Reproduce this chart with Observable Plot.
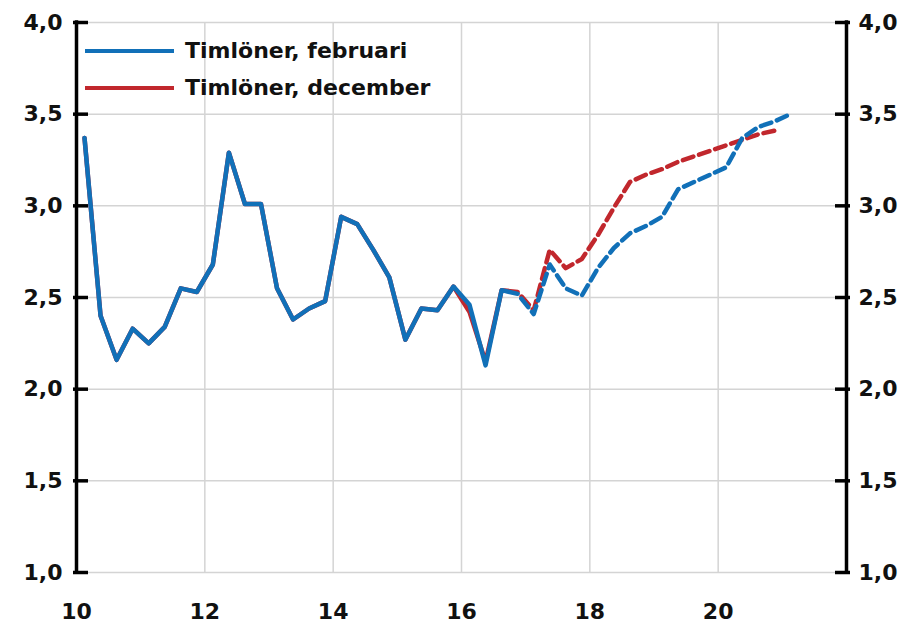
<!DOCTYPE html>
<html>
<head>
<meta charset="utf-8">
<script src="https://cdn.jsdelivr.net/npm/d3@7"></script>
<script src="https://cdn.jsdelivr.net/npm/@observablehq/plot@0.6"></script>
<style>
  html, body { margin: 0; padding: 0; background: #fff; }
  #wrap { position: relative; width: 915px; height: 624px; }
  #legend { position: absolute; left: 85px; top: 32px; font-family: "DejaVu Sans", sans-serif; font-weight: bold; font-size: 22px; color: #111; }
  .item { display: flex; align-items: center; height: 37px; }
  .swatch { width: 89px; height: 4px; margin-right: 11px; }
  svg text { font-weight: bold; }
</style>
</head>
<body>
<div id="wrap">
  <div id="chart"></div>
  <div id="legend"></div>
</div>
<script>
// Series names
const seriesNames = ["Timlöner, februari", "Timlöner, december"];
const seriesColors = ["#1170b8", "#c1272d"];

// Outcome period (quarters, year fraction)
const histX = [10.125, 10.375, 10.625, 10.875, 11.125, 11.375, 11.625, 11.875,
               12.125, 12.375, 12.625, 12.875, 13.125, 13.375, 13.625, 13.875,
               14.125, 14.375, 14.625, 14.875, 15.125, 15.375, 15.625, 15.875,
               16.125, 16.375, 16.625, 16.875];
const febHist = [3.37, 2.40, 2.16, 2.33, 2.25, 2.34, 2.55, 2.53,
                 2.68, 3.29, 3.01, 3.01, 2.55, 2.38, 2.44, 2.48,
                 2.94, 2.90, 2.76, 2.61, 2.27, 2.44, 2.43, 2.56,
                 2.46, 2.13, 2.54, 2.52];
const decHist = [3.37, 2.40, 2.16, 2.33, 2.25, 2.34, 2.55, 2.53,
                 2.68, 3.29, 3.01, 3.01, 2.55, 2.38, 2.44, 2.48,
                 2.94, 2.90, 2.76, 2.61, 2.27, 2.44, 2.43, 2.56,
                 2.42, 2.15, 2.54, 2.53];

// Forecast period
const febFcX = [16.875, 17.125, 17.375, 17.625, 17.875, 18.125, 18.375, 18.625, 18.875,
                19.125, 19.375, 19.625, 19.875, 20.125, 20.375, 20.625, 20.875, 21.125];
const febFc = [2.52, 2.41, 2.68, 2.55, 2.51, 2.66, 2.77, 2.85, 2.89,
               2.94, 3.09, 3.13, 3.17, 3.21, 3.37, 3.43, 3.46, 3.50];
const decFcX = [16.875, 17.125, 17.375, 17.625, 17.875, 18.125, 18.375, 18.625, 18.875,
                19.125, 19.375, 19.625, 19.875, 20.125, 20.375, 20.625, 20.875];
const decFc = [2.53, 2.43, 2.76, 2.66, 2.71, 2.84, 2.99, 3.13, 3.17,
               3.20, 3.24, 3.27, 3.30, 3.33, 3.36, 3.39, 3.41];

// Axis ticks
const xTicks = [10, 12, 14, 16, 18, 20];
const xGrid = [12, 14, 16, 18, 20];
const yTicks = [1.0, 1.5, 2.0, 2.5, 3.0, 3.5, 4.0];
const xEdges = [10, 22];

const toRows = (xs, ys) => xs.map((x, i) => ({x, y: ys[i]}));
const fmt = d => d.toFixed(1).replace(".", ",");

const chart = Plot.plot({
  width: 915,
  height: 624,
  marginTop: 22,
  marginBottom: 52,
  marginLeft: 76,
  marginRight: 69,
  style: {fontFamily: "DejaVu Sans, sans-serif", fontSize: "22px", color: "#111", background: "#fff"},
  x: {domain: xEdges, label: null},
  y: {domain: [1, 4], label: null},
  marks: [
    Plot.gridY(yTicks, {stroke: "#d4d4d4", strokeOpacity: 1, strokeWidth: 1.5}),
    Plot.gridX(xGrid, {stroke: "#d4d4d4", strokeOpacity: 1, strokeWidth: 1.5}),
    Plot.ruleX(xEdges, {stroke: "#000", strokeWidth: 3.5, y1: 0.99, y2: 4.01}),
    Plot.axisY(yTicks, {anchor: "left", tickSize: 15, dx: 12, tickFormat: () => "", stroke: "#000", strokeWidth: 3.5, label: null}),
    Plot.axisY(yTicks, {anchor: "right", tickSize: 15, dx: -12, tickFormat: () => "", stroke: "#000", strokeWidth: 3.5, label: null}),
    Plot.axisY(yTicks, {anchor: "left", tickSize: 0, tickPadding: 14, tickFormat: fmt, label: null}),
    Plot.axisY(yTicks, {anchor: "right", tickSize: 0, tickPadding: 12, tickFormat: fmt, label: null}),
    Plot.axisX(xTicks, {tickSize: 0, tickPadding: 31, tickFormat: d => String(d), label: null}),
    Plot.line(toRows(histX, decHist), {x: "x", y: "y", stroke: seriesColors[1], strokeWidth: 4.5, strokeLinejoin: "round"}),
    Plot.line(toRows(histX, febHist), {x: "x", y: "y", stroke: seriesColors[0], strokeWidth: 4.5, strokeLinejoin: "round"}),
    Plot.line(toRows(decFcX, decFc), {x: "x", y: "y", stroke: seriesColors[1], strokeWidth: 4.5, strokeDasharray: "11,6", strokeDashoffset: 11}),
    Plot.line(toRows(febFcX, febFc), {x: "x", y: "y", stroke: seriesColors[0], strokeWidth: 4.5, strokeDasharray: "11,6", strokeDashoffset: 11})
  ]
});
document.getElementById("chart").appendChild(chart);

const legend = document.getElementById("legend");
seriesNames.forEach((name, i) => {
  const item = document.createElement("div");
  item.className = "item";
  const sw = document.createElement("div");
  sw.className = "swatch";
  sw.style.background = seriesColors[i];
  const label = document.createElement("span");
  label.textContent = name;
  item.appendChild(sw);
  item.appendChild(label);
  legend.appendChild(item);
});
</script>
</body>
</html>
